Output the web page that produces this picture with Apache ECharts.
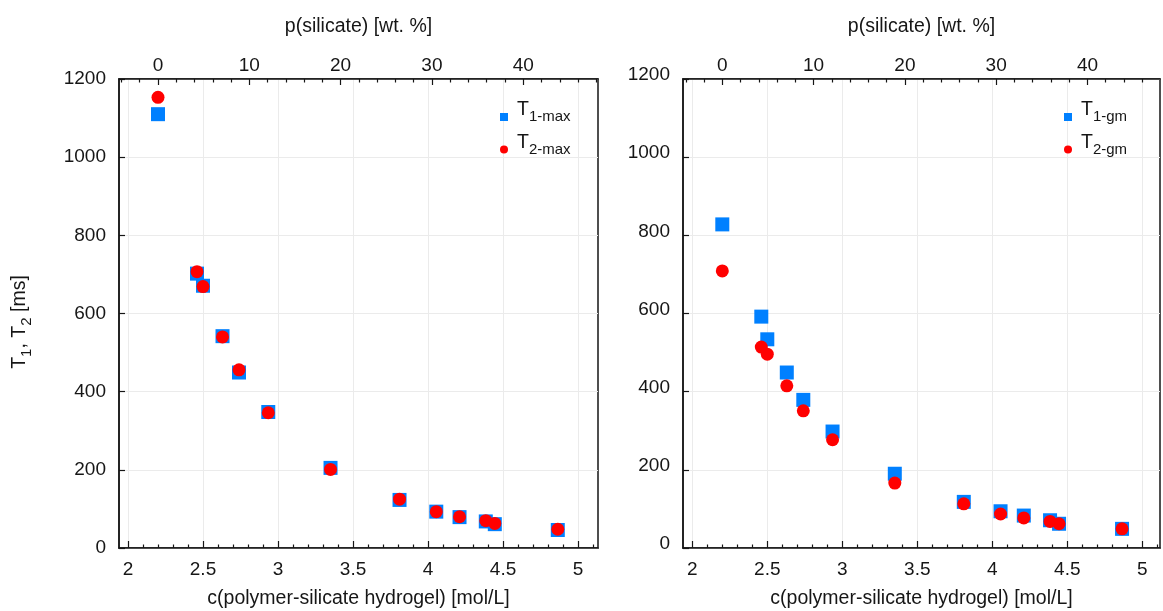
<!DOCTYPE html>
<html>
<head>
<meta charset="utf-8">
<script src="https://cdn.jsdelivr.net/npm/echarts@6/dist/echarts.min.js"></script>
<style>
  html, body { margin: 0; padding: 0; background: #fff; }
  #chart { width: 1163px; height: 611px; }
</style>
</head>
<body>
<div id="chart"></div>
<script>
// Hydrogel concentration of each sample [mol/L]
const concentration = [2.2, 2.46, 2.5, 2.63, 2.74, 2.935, 3.35, 3.81, 4.055, 4.21, 4.385, 4.445, 4.865];

// Relaxation times [ms], maximum of the distribution
const t1Max = [1110, 702, 671, 542, 449, 348, 205, 123, 93, 79, 68, 61, 46];
const t2Max = [1153, 707, 669, 540, 456, 346, 201, 125, 93, 80, 70, 63, 48];

// Relaxation times [ms], geometric mean of the distribution
const t1Gm = [828, 592, 534, 449, 379, 298, 190, 118, 94, 83, 71, 62, 49];
const t2Gm = [709, 514, 496, 415, 351, 277, 166, 113, 87, 77, 68, 62, 49];

// Tick labels
const cTicks = [2, 2.5, 3, 3.5, 4, 4.5, 5];
const pTicks = [0, 10, 20, 30, 40];

// Silicate weight fraction scale on top: 0 wt.% at 2.2 mol/L, 16.43 wt.% per mol/L
const P_ZERO_C = 2.2;
const P_PER_C = 16.43;

const FONT = 'Liberation Sans, Arial, Helvetica, sans-serif';
const INK = '#161616';
const GRIDLINE = '#ebebeb';

function minorBetween(majors, step, lo, hi) {
  const out = [];
  const n = Math.round((hi - lo) / step);
  for (let i = 0; i <= n; i++) {
    const v = +(lo + i * step).toFixed(4);
    if (!majors.some(m => Math.abs(m - v) < 1e-6)) out.push(v);
  }
  return out;
}
const cMinor = minorBetween(cTicks, 0.1, 2.0, 5.1);
const pMinor = minorBetween(pTicks, 2, -4, 48);

const panels = [
  { left: 119, width: 479, cMin: 1.94, cMax: 5.133, yLift: 0,
    names: ['T1-max', 'T2-max'], t1: t1Max, t2: t2Max, legendLeft: 500 },
  { left: 683, width: 477, cMin: 1.938, cMax: 5.118, yLift: 8,
    names: ['T1-gm', 'T2-gm'], t1: t1Gm, t2: t2Gm, legendLeft: 1064 }
];

const grid = [], xAxis = [], yAxis = [], series = [], legend = [];

const labelStyle = { fontSize: 19, color: INK, fontFamily: FONT };
const plain = v => String(+v.toFixed(3));

panels.forEach((p, g) => {
  grid.push({
    left: p.left, top: 79, width: p.width, height: 469,
    outerBoundsMode: 'none', containLabel: false,
    show: true, borderColor: INK, borderWidth: 1.5, backgroundColor: 'transparent'
  });
  const pMin = (p.cMin - P_ZERO_C) * P_PER_C;
  const pMax = (p.cMax - P_ZERO_C) * P_PER_C;
  const base = xAxis.length;

  // bottom: concentration, major ticks + labels + vertical grid
  xAxis.push({
    type: 'value', gridIndex: g, position: 'bottom', min: p.cMin, max: p.cMax,
    axisLine: { show: true, onZero: false, lineStyle: { color: INK, width: 1.5 } },
    axisTick: { show: true, inside: true, length: 7, customValues: cTicks, lineStyle: { color: INK, width: 1.2 } },
    axisLabel: Object.assign({ customValues: cTicks, margin: 12, formatter: plain }, labelStyle),
    splitLine: { show: true, lineStyle: { color: GRIDLINE, width: 1 } },
    name: 'c(polymer-silicate hydrogel) [mol/L]', nameLocation: 'middle', nameGap: 41,
    nameTextStyle: { fontSize: 19.5, color: INK, fontFamily: FONT }
  });
  // bottom: minor ticks
  xAxis.push({
    type: 'value', gridIndex: g, position: 'bottom', min: p.cMin, max: p.cMax,
    axisLine: { show: false, onZero: false },
    axisTick: { show: true, inside: true, length: 3.5, customValues: cMinor, lineStyle: { color: INK, width: 1.2 } },
    axisLabel: { show: false }, splitLine: { show: false }
  });
  // top: silicate weight fraction, major ticks + labels
  xAxis.push({
    type: 'value', gridIndex: g, position: 'top', min: pMin, max: pMax,
    axisLine: { show: true, onZero: false, lineStyle: { color: INK, width: 1.5 } },
    axisTick: { show: true, inside: true, length: 6, customValues: pTicks, lineStyle: { color: INK, width: 1.2 } },
    axisLabel: Object.assign({ customValues: pTicks, margin: 4, formatter: plain }, labelStyle),
    splitLine: { show: false },
    name: 'p(silicate) [wt. %]', nameLocation: 'middle', nameGap: 42,
    nameTextStyle: { fontSize: 19.5, color: INK, fontFamily: FONT }
  });
  // top: minor ticks
  xAxis.push({
    type: 'value', gridIndex: g, position: 'top', min: pMin, max: pMax,
    axisLine: { show: false, onZero: false },
    axisTick: { show: true, inside: true, length: 3.5, customValues: pMinor, lineStyle: { color: INK, width: 1.2 } },
    axisLabel: { show: false }, splitLine: { show: false }
  });

  yAxis.push({
    type: 'value', gridIndex: g, min: 0, max: 1200, interval: 200,
    axisLine: { show: true, onZero: false, lineStyle: { color: INK, width: 1.5 } },
    axisTick: { show: true, inside: true, length: 6, lineStyle: { color: INK, width: 1.2 } },
    axisLabel: Object.assign({
      margin: 13,
      formatter: v => '{v|' + plain(v) + '}',
      rich: { v: { fontSize: 19, color: INK, fontFamily: FONT, padding: [0, 0, p.yLift, 0] } }
    }, labelStyle),
    splitLine: { show: true, lineStyle: { color: GRIDLINE, width: 1 } }
  });

  const pairs = vals => concentration.map((c, i) => [c, vals[i]]);
  series.push({
    name: p.names[0], type: 'scatter', xAxisIndex: base, yAxisIndex: g,
    symbol: 'rect', symbolSize: 14, itemStyle: { color: '#0080ff', opacity: 1 },
    data: pairs(p.t1), z: 3
  });
  series.push({
    name: p.names[1], type: 'scatter', xAxisIndex: base, yAxisIndex: g,
    symbol: 'circle', symbolSize: 13, itemStyle: { color: '#ff0000', opacity: 1 },
    data: pairs(p.t2), z: 4
  });

  p.names.forEach((nm, k) => {
    legend.push({
      data: [nm], left: p.legendLeft, top: 100 + k * 32.5, padding: 0,
      itemWidth: 8, itemHeight: 8, selectedMode: false,
      formatter: n => '{t|T}{s|' + n.slice(1) + '}',
      textStyle: {
        color: INK, fontFamily: FONT,
        rich: {
          t: { fontSize: 19.5, lineHeight: 20, padding: [0, 0, 14, 4], color: INK, fontFamily: FONT },
          s: { fontSize: 15, lineHeight: 16, color: INK, fontFamily: FONT }
        }
      }
    });
  });
});

const chart = echarts.init(document.getElementById('chart'), null, { renderer: 'canvas' });
chart.setOption({
  animation: false,
  backgroundColor: '#ffffff',
  textStyle: { fontFamily: FONT },
  grid, xAxis, yAxis, series, legend,
  graphic: [{
    type: 'text', x: 27, y: 322, rotation: Math.PI / 2,
    style: {
      text: '{t|T}{s|1}{t|, T}{s|2}{t| [ms]}',
      align: 'center', verticalAlign: 'middle', fill: INK,
      rich: {
        t: { fontSize: 19.5, lineHeight: 20, padding: [0, 0, 14, 0], fill: INK, fontFamily: FONT },
        s: { fontSize: 15, lineHeight: 16, fill: INK, fontFamily: FONT }
      }
    }
  }]
});
</script>
</body>
</html>
